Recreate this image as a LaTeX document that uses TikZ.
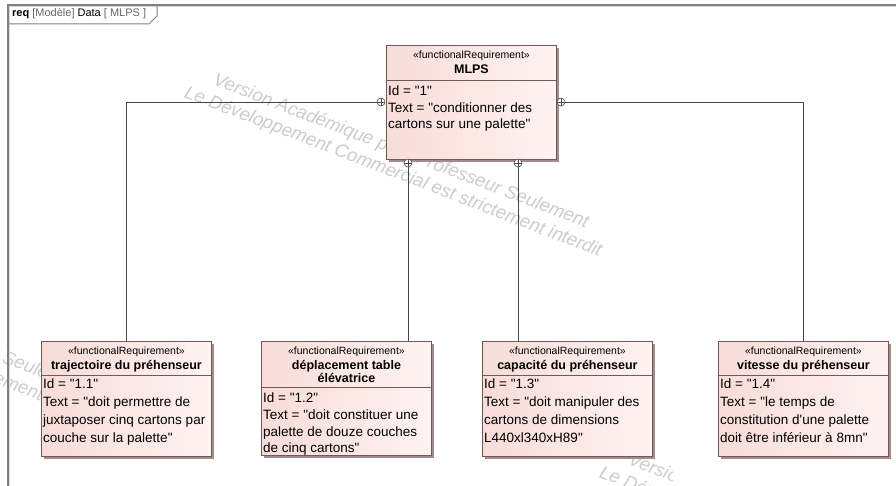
\documentclass[tikz,border=0pt]{standalone}
\usepackage{fontspec}
\setmainfont{Liberation Sans}[Ligatures=TeXOff]
\usetikzlibrary{shadows,positioning}

\definecolor{reqedge}{RGB}{115,88,88}
\definecolor{reqshade}{RGB}{160,140,140}
\definecolor{reqpink}{RGB}{248,220,216}
\definecolor{reqlight}{RGB}{254,243,241}
\definecolor{connline}{RGB}{70,70,70}
\definecolor{frameline}{RGB}{128,128,128}

\newcommand{\reqstereo}{«functionalRequirement»}
\newcommand{\wmtext}{Version Académique pour Professeur Seulement\\Le Développement Commercial est strictement interdit}

\tikzset{
    reqbox/.style={draw=reqedge, line width=0.9pt, left color=reqpink, right color=reqlight,
        minimum width=170pt, anchor=north west, inner sep=0pt,
        drop shadow={shadow xshift=3pt, shadow yshift=-3pt, fill=reqshade, opacity=1}},
    reqhead/.style={align=center, inner sep=0pt, font=\fontsize{10.5}{15}\selectfont},
    reqbody/.style={align=left, anchor=north west, inner xsep=2pt, inner ysep=4pt,
        font=\fontsize{13.5}{18}\selectfont},
    nest/.style={circle, draw=connline, fill=white, line width=0.6pt, minimum size=8pt, inner sep=0pt,
        path picture={\draw[connline, line width=0.6pt]
            (path picture bounding box.north) -- (path picture bounding box.south)
            (path picture bounding box.west) -- (path picture bounding box.east);}},
    conn/.style={draw=connline, line width=0.8pt},
    watermark/.style={align=center, inner sep=0pt, rotate=-21, text=black!20,
        font=\fontsize{18.5}{22}\selectfont\itshape}
}

\begin{document}
\begin{tikzpicture}[x=1pt,y=-1pt]
    \useasboundingbox (0,0) rectangle (896,486);
    \clip (0,0) rectangle (896,486);
    \fill[white] (0,0) rectangle (896,486);

    % watermark
    \node (wm) [watermark] at (397,162) {\wmtext};
    \begin{scope}
        \clip (0,330) rectangle (41,400);
        \node (wmleft) [watermark] at (-105,328) {\wmtext};
    \end{scope}
    \begin{scope}
        \clip (596,455) rectangle (672,486);
        \node (wmlow) [watermark] at (812,542) {\wmtext};
    \end{scope}

    % frame
    \draw[black!15, line width=1pt] (9.5,486) -- (9.5,6.5) -- (896,6.5);
    \draw[frameline, line width=1.3pt] (8,486) -- (8,5) -- (896,5);
    \draw[frameline, line width=1pt] (8,24) -- (149,24) -- (157,16) -- (157,5);
    \node (tab) [anchor=west, inner sep=0pt, font=\fontsize{11}{13}\selectfont] at (12,14)
        {\textbf{req} \textcolor{black!60}{[Modèle]} Data \textcolor{black!60}{[ MLPS ]}};

    % requirements
    \node (mlps) [reqbox, minimum height=114pt] at (386,45) {};
    \node (r1) [reqbox, minimum height=115pt] at (41,341) {};
    \node (r2) [reqbox, minimum height=114pt] at (261,341) {};
    \node (r3) [reqbox, minimum height=115pt] at (482,341) {};
    \node (r4) [reqbox, minimum height=115pt] at (718,341) {};

    \node (mlpsh) [reqhead, below=6pt of mlps.north] {\reqstereo\\{\fontsize{12.5}{15}\selectfont\bfseries MLPS}};
    \node (r1h) [reqhead, below=6pt of r1.north] {\reqstereo\\{\fontsize{12.5}{15}\selectfont\bfseries trajectoire du préhenseur}};
    \node (r2h) [reqhead, below=6pt of r2.north] {\reqstereo\\{\fontsize{12.5}{15}\selectfont\bfseries déplacement table}\\[-2pt]{\fontsize{12.5}{15}\selectfont\bfseries élévatrice}};
    \node (r3h) [reqhead, below=6pt of r3.north] {\reqstereo\\{\fontsize{12.5}{15}\selectfont\bfseries capacité du préhenseur}};
    \node (r4h) [reqhead, below=6pt of r4.north] {\reqstereo\\{\fontsize{12.5}{15}\selectfont\bfseries vitesse du préhenseur}};

    \node (mlpsb) [reqbody, inner ysep=6pt, font=\fontsize{13.5}{16.5}\selectfont] at ([yshift=-35pt]mlps.north west)
        {Id = "1"\\Text = "conditionner des\\cartons sur une palette"};
    \node (r1b) [reqbody] at ([yshift=-34pt]r1.north west)
        {Id = "1.1"\\Text = "doit permettre de\\juxtaposer cinq cartons par\\couche sur la palette"};
    \node (r2b) [reqbody, inner ysep=5.5pt, font=\fontsize{13.5}{16.8}\selectfont] at ([yshift=-46pt]r2.north west)
        {Id = "1.2"\\Text = "doit constituer une\\palette de douze couches\\de cinq cartons"};
    \node (r3b) [reqbody] at ([yshift=-34pt]r3.north west)
        {Id = "1.3"\\Text = "doit manipuler des\\cartons de dimensions\\L440xl340xH89"};
    \node (r4b) [reqbody] at ([yshift=-34pt]r4.north west)
        {Id = "1.4"\\Text = "le temps de\\constitution d'une palette\\doit être inférieur à 8mn"};

    \foreach \b in {mlps,r1,r2,r3,r4}
        \draw[reqedge, line width=0.9pt] (\b b.north west) -- (\b b.north west -| \b.east);

    % containment
    \node (m1) [nest] at (381,102) {};
    \node (m2) [nest] at (561,102) {};
    \node (m3) [nest] at (408,163) {};
    \node (m4) [nest] at (518,163) {};

    \draw[conn] (m1.west) -| (r1.north);
    \draw[conn] (m2.east) -| (r4.north);
    \draw[conn] (m3.south) -- (m3.south |- r2.north);
    \draw[conn] (m4.south) -- (m4.south |- r3.north);
\end{tikzpicture}
\end{document}
